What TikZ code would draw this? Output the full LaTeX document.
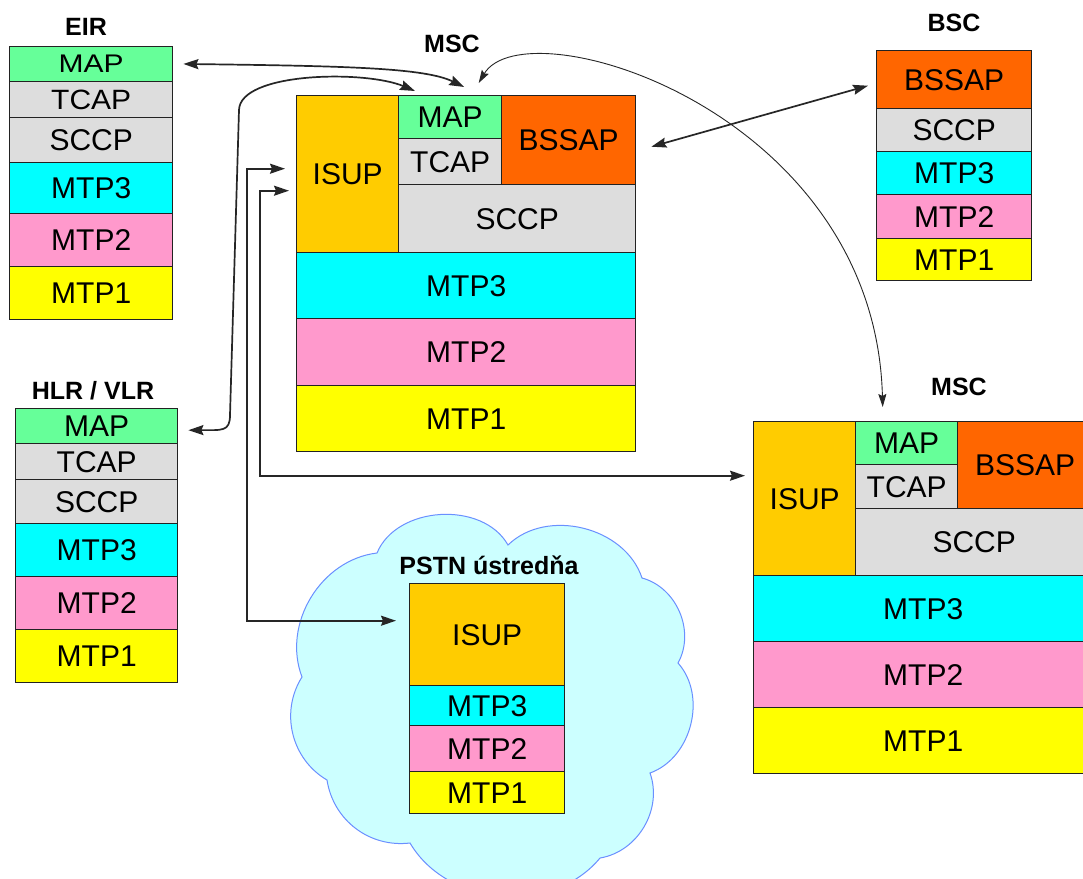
\documentclass[tikz,border=0pt]{standalone}
\usepackage{fontspec}
\usepackage{graphicx}
\setmainfont{Liberation Sans}
\usetikzlibrary{arrows.meta,calc}

\definecolor{mapgreen}{HTML}{66FF99}
\definecolor{lightgrey}{HTML}{DDDDDD}
\definecolor{mtpcyan}{HTML}{00FFFF}
\definecolor{mtppink}{HTML}{FF99CC}
\definecolor{mtpyellow}{HTML}{FFFF00}
\definecolor{isuporange}{HTML}{FFCC00}
\definecolor{bssaporange}{HTML}{FF6600}
\definecolor{cloudfill}{HTML}{CCFFFF}
\definecolor{cloudline}{HTML}{6A8FFF}
\definecolor{boxline}{HTML}{222222}

\tikzset{
  layer/.style={draw=boxline, line width=1.4pt, inner sep=0pt, anchor=north west,
    font=\fontsize{30}{34}\selectfont, text=black},
  title/.style={font=\fontsize{25}{29}\selectfont\bfseries, inner sep=0pt},
  link/.style={line width=1.7pt, draw=black!85,
    {Stealth[length=15pt,width=10pt,inset=2pt]}-{Stealth[length=15pt,width=10pt,inset=2pt]}},
  thinlink/.style={line width=0.9pt, draw=black!85,
    {Stealth[length=13pt,width=8pt,inset=2pt]}-{Stealth[length=13pt,width=8pt,inset=2pt]}},
  cloudshape/.style={fill=cloudfill, draw=cloudline, line width=1pt},
}

% one protocol layer: name, fill, x1, y1, x2, y2, text
\newcommand\protolayer[7]{%
  \node[layer, fill=#2, minimum width={(#5-#3)*1pt}, minimum height={(#6-#4)*1pt}]
    (#1) at (#3,#4) {#7};}

\begin{document}
\begin{tikzpicture}[x=1pt, y=-1pt]
\useasboundingbox (0,0) rectangle (1083,878);
\fill[white] (0,0) rectangle (1083,878);

% PSTN exchange cloud
\draw[cloudshape] (508,545) to[bend left=58] (642,578) to[bend left=52] (678,663)
  to[bend left=56] (650,773) to[bend left=50] (600,858) to[bend left=55] (410,843)
  to[bend left=44] (327,780) to[bend left=46] (302,677) to[bend left=52] (377,553)
  to[bend left=64] (508,545) -- cycle;

% EIR
\node[title] (eirT) at (86,27) {EIR};
\protolayer{eMAP}{mapgreen}{9}{46}{172}{80.5}{\scalebox{1}[0.85]{MAP}}
\protolayer{eTCAP}{lightgrey}{9}{80.5}{172}{117}{\scalebox{1}[0.93]{TCAP}}
\protolayer{eSCCP}{lightgrey}{9}{117}{172}{162}{SCCP}
\protolayer{eMTP3}{mtpcyan}{9}{162}{172}{213}{MTP3}
\protolayer{eMTP2}{mtppink}{9}{213}{172}{266}{MTP2}
\protolayer{eMTP1}{mtpyellow}{9}{266}{172}{319}{MTP1}

% HLR / VLR
\node[title] (hlrT) at (93,391) {HLR / VLR};
\protolayer{hMAP}{mapgreen}{15}{408}{177}{443}{MAP}
\protolayer{hTCAP}{lightgrey}{15}{443}{177}{479}{TCAP}
\protolayer{hSCCP}{lightgrey}{15}{479}{177}{523}{SCCP}
\protolayer{hMTP3}{mtpcyan}{15}{523}{177}{576}{MTP3}
\protolayer{hMTP2}{mtppink}{15}{576}{177}{629}{MTP2}
\protolayer{hMTP1}{mtpyellow}{15}{629}{177}{682}{MTP1}

% BSC
\node[title] (bscT) at (954,23) {BSC};
\protolayer{bBSSAP}{bssaporange}{876}{50}{1031}{108}{BSSAP}
\protolayer{bSCCP}{lightgrey}{876}{108}{1031}{151}{SCCP}
\protolayer{bMTP3}{mtpcyan}{876}{151}{1031}{194}{MTP3}
\protolayer{bMTP2}{mtppink}{876}{194}{1031}{238}{MTP2}
\protolayer{bMTP1}{mtpyellow}{876}{238}{1031}{280}{MTP1}

% MSC (upper)
\node[title] (mscT) at (452,44) {MSC};
\protolayer{mISUP}{isuporange}{296}{95}{398}{252}{ISUP}
\protolayer{mMAP}{mapgreen}{398}{95}{501}{138}{MAP}
\protolayer{mTCAP}{lightgrey}{398}{138}{501}{184}{TCAP}
\protolayer{mBSSAP}{bssaporange}{501}{95}{635}{184}{BSSAP}
\protolayer{mSCCP}{lightgrey}{398}{184}{635}{252}{SCCP}
\protolayer{mMTP3}{mtpcyan}{296}{252}{635}{318}{MTP3}
\protolayer{mMTP2}{mtppink}{296}{318}{635}{385}{MTP2}
\protolayer{mMTP1}{mtpyellow}{296}{385}{635}{451}{MTP1}

% MSC (lower right)
\node[title] (msc2T) at (959,387) {MSC};
\protolayer{nISUP}{isuporange}{753}{421}{855}{575}{ISUP}
\protolayer{nMAP}{mapgreen}{855}{421}{957}{464}{MAP}
\protolayer{nTCAP}{lightgrey}{855}{464}{957}{508}{TCAP}
\protolayer{nBSSAP}{bssaporange}{957}{421}{1092}{508}{BSSAP}
\protolayer{nSCCP}{lightgrey}{855}{508}{1092}{575}{SCCP}
\protolayer{nMTP3}{mtpcyan}{753}{575}{1092}{641}{MTP3}
\protolayer{nMTP2}{mtppink}{753}{641}{1092}{707}{MTP2}
\protolayer{nMTP1}{mtpyellow}{753}{707}{1092}{773}{MTP1}

% PSTN exchange
\node[title] (pstnT) at (489,565) {PSTN ústredňa};
\protolayer{pISUP}{isuporange}{409}{583}{564}{685}{ISUP}
\protolayer{pMTP3}{mtpcyan}{409}{685}{564}{725}{MTP3}
\protolayer{pMTP2}{mtppink}{409}{725}{564}{771}{MTP2}
\protolayer{pMTP1}{mtpyellow}{409}{771}{564}{813}{MTP1}

% MAP links
\draw[link] ($(eMAP.east)+(10,0)$) .. controls (350,66) and (425,68) .. ($(mMAP.north)+(14,-8)$);
\draw[link] ($(hMAP.east)+(10,4)$) .. controls (222,430) and (230,432) .. (230,415)
  -- (239,110) .. controls (240,72) and (365,70) .. ($(mMAP.north west)+(17,-4)$);
\draw[thinlink] ($(mMAP.north)+(28.5,-12)$) .. controls (525,5) and (875,110) .. ($(nMAP.north)+(-24,-14)$);

% ISUP links
\draw[link] ($(mISUP.west)+(-11,-5.5)$) -- ++(-38,0) |- ($(pISUP.west)+(-13,-14)$);
\draw[link] ($(mISUP.west)+(-7,16.5)$) -- ++(-29,0) |- ($(nISUP.west)+(-8,-23)$);

% BSSAP link
\draw[link] ($(mBSSAP.east)+(15,6.5)$) -- ($(bBSSAP.west)+(-8,6)$);
\end{tikzpicture}
\end{document}
